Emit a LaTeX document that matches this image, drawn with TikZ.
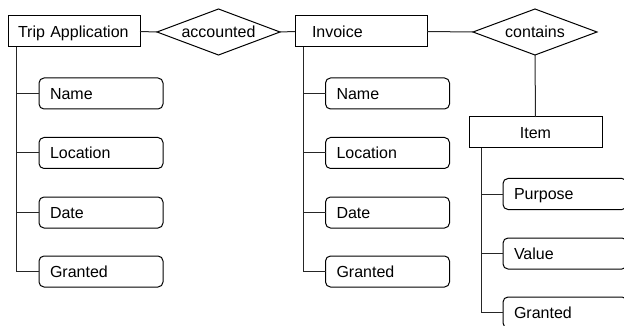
\documentclass[tikz,border=0pt]{standalone}
\usepackage{fontspec}
\setmainfont{Liberation Sans}
\usetikzlibrary{shapes.geometric}
\begin{document}
\begin{tikzpicture}[x=1pt,y=-1pt,
  every node/.style={font=\fontsize{16}{19}\selectfont},
  entity/.style={draw,line width=1pt,minimum height=31pt,text height=11.4pt,text depth=0pt,inner ysep=0pt,inner xsep=0pt,outer sep=0pt},
  relation/.style={draw,line width=1pt,diamond,aspect=2.67,minimum width=123pt,minimum height=46pt,text height=11.4pt,text depth=0pt,inner sep=0pt,outer sep=0pt},
  attrib/.style={draw,line width=1pt,rounded corners=5pt,minimum height=31pt,text height=11.4pt,text depth=0pt,text width=102pt,align=left,inner xsep=11pt,inner ysep=0pt,outer sep=0pt},
  conn/.style={line width=1pt,draw=black!85}]
\useasboundingbox (0,0) rectangle (624,326);
\clip (0,0) rectangle (624,326);
% entities
\node[entity,minimum width=132pt,text width=112pt,inner xsep=10pt,align=left] (trip) at (74,31.5) {Trip Application};
\node[entity,minimum width=132pt,text width=98pt,inner xsep=17pt,align=left] (inv) at (361,31.5) {Invoice};
\node[entity,minimum width=133pt] (item) at (535.5,132.5) {Item};
% relations
\node[relation] (acc) at (218.5,32) {accounted};
\node[relation,minimum width=124pt] (cont) at (535,32) {contains};
% attributes of Trip Application
\node[attrib] (tname) at (101,93.5) {Name};
\node[attrib] (tloc) at (101,153) {Location};
\node[attrib] (tdate) at (101,212.5) {Date};
\node[attrib] (tgr) at (101,271.5) {Granted};
% attributes of Invoice
\node[attrib] (iname) at (387.5,93.5) {Name};
\node[attrib] (iloc) at (387.5,153) {Location};
\node[attrib] (idate) at (387.5,212.5) {Date};
\node[attrib] (igr) at (387.5,271.5) {Granted};
% attributes of Item
\node[attrib] (ipur) at (565,194) {Purpose};
\node[attrib] (ival) at (565,253.5) {Value};
\node[attrib] (igr2) at (565,312.5) {Granted};
% relation connectors
\draw[conn] (trip.east) -- (acc.west);
\draw[conn] (acc.east) -- (inv.west);
\draw[conn] (inv.east) -- (cont.west);
\draw[conn] (cont.south) -- (item.north);
% attribute connectors
\coordinate (ta) at (16,47);
\coordinate (ia) at (303,47);
\coordinate (ma) at (481,148);
\draw[conn] (ta) |- (tname.west);
\draw[conn] (ta) |- (tloc.west);
\draw[conn] (ta) |- (tdate.west);
\draw[conn] (ta) |- (tgr.west);
\draw[conn] (ia) |- (iname.west);
\draw[conn] (ia) |- (iloc.west);
\draw[conn] (ia) |- (idate.west);
\draw[conn] (ia) |- (igr.west);
\draw[conn] (ma) |- (ipur.west);
\draw[conn] (ma) |- (ival.west);
\draw[conn] (ma) |- (igr2.west);
\end{tikzpicture}
\end{document}
